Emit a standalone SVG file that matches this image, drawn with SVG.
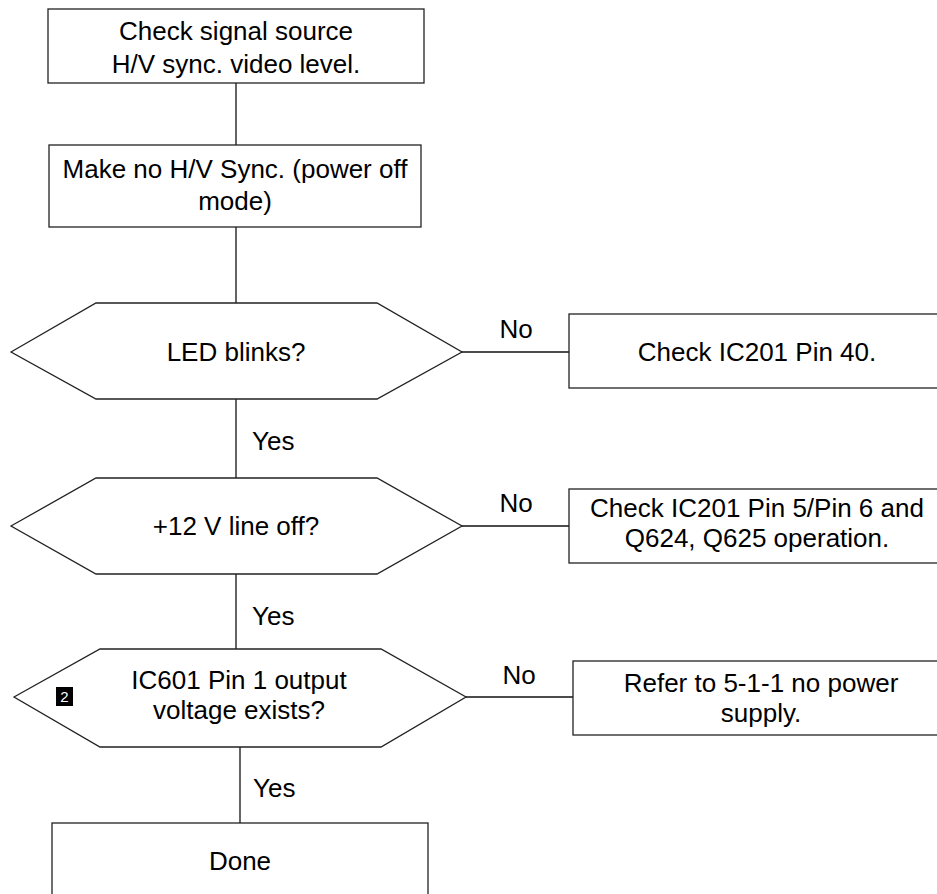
<svg xmlns="http://www.w3.org/2000/svg" width="937" height="894" viewBox="0 0 937 894">
<style>
.box{fill:#fff;stroke:#222;stroke-width:1.3}
.ln{fill:none;stroke:#111;stroke-width:1.3}
text{font-family:"Liberation Sans",Arial,sans-serif;font-size:26px;fill:#000}
.c{text-anchor:middle}
.badge{font-size:15px;fill:#fff}
</style>
<rect width="937" height="894" fill="#fff"/>
<g id="connectors">
<line class="ln" x1="236" y1="83" x2="236" y2="145"/>
<line class="ln" x1="236" y1="227" x2="236" y2="303"/>
<line class="ln" x1="236" y1="399" x2="236" y2="478"/>
<line class="ln" x1="236" y1="574" x2="236" y2="649"/>
<line class="ln" x1="240" y1="747" x2="240" y2="823"/>
<line class="ln" x1="462" y1="352" x2="569" y2="352"/>
<line class="ln" x1="462" y1="526" x2="569" y2="526"/>
<line class="ln" x1="466" y1="697" x2="573" y2="697"/>
<text x="516" y="338" class="c">No</text>
<text x="516" y="512" class="c">No</text>
<text x="519" y="684" class="c">No</text>
<text x="252" y="450">Yes</text>
<text x="252" y="625">Yes</text>
<text x="253" y="797">Yes</text>
</g>
<g id="n1">
<rect class="box" x="48" y="9" width="376" height="74"/>
<text x="236" y="40" class="c">Check signal source</text>
<text x="236" y="73" class="c">H/V sync. video level.</text>
</g>
<g id="n2">
<rect class="box" x="49" y="145" width="372" height="82"/>
<text x="235" y="178" class="c">Make no H/V Sync. (power off</text>
<text x="235" y="210" class="c">mode)</text>
</g>
<g id="d1">
<polygon class="box" points="11,352 96,303 377,303 462,352 377,399 96,399"/>
<text x="236" y="361" class="c">LED blinks?</text>
</g>
<g id="n3">
<rect class="box" x="569" y="314" width="376" height="74"/>
<text x="757" y="361" class="c">Check IC201 Pin 40.</text>
</g>
<g id="d2">
<polygon class="box" points="11,526 96,478 377,478 462,526 377,574 96,574"/>
<text x="236" y="535" class="c">+12 V line off?</text>
</g>
<g id="n4">
<rect class="box" x="569" y="489" width="376" height="74"/>
<text x="757" y="517" class="c">Check IC201 Pin 5/Pin 6 and</text>
<text x="757" y="547" class="c">Q624, Q625 operation.</text>
</g>
<g id="d3">
<polygon class="box" points="14,697 100,649 381,649 466,697 381,747 100,747"/>
<text x="239" y="689" class="c">IC601 Pin 1 output</text>
<text x="239" y="719" class="c">voltage exists?</text>
<rect x="56" y="687" width="17" height="19" fill="#000"/>
<text x="64.5" y="702" class="c badge">2</text>
</g>
<g id="n5">
<rect class="box" x="573" y="661" width="376" height="74"/>
<text x="761" y="692" class="c">Refer to 5-1-1 no power</text>
<text x="761" y="722" class="c">supply.</text>
</g>
<g id="n6">
<rect class="box" x="52" y="823" width="376" height="76"/>
<text x="240" y="870" class="c">Done</text>
</g>
</svg>
